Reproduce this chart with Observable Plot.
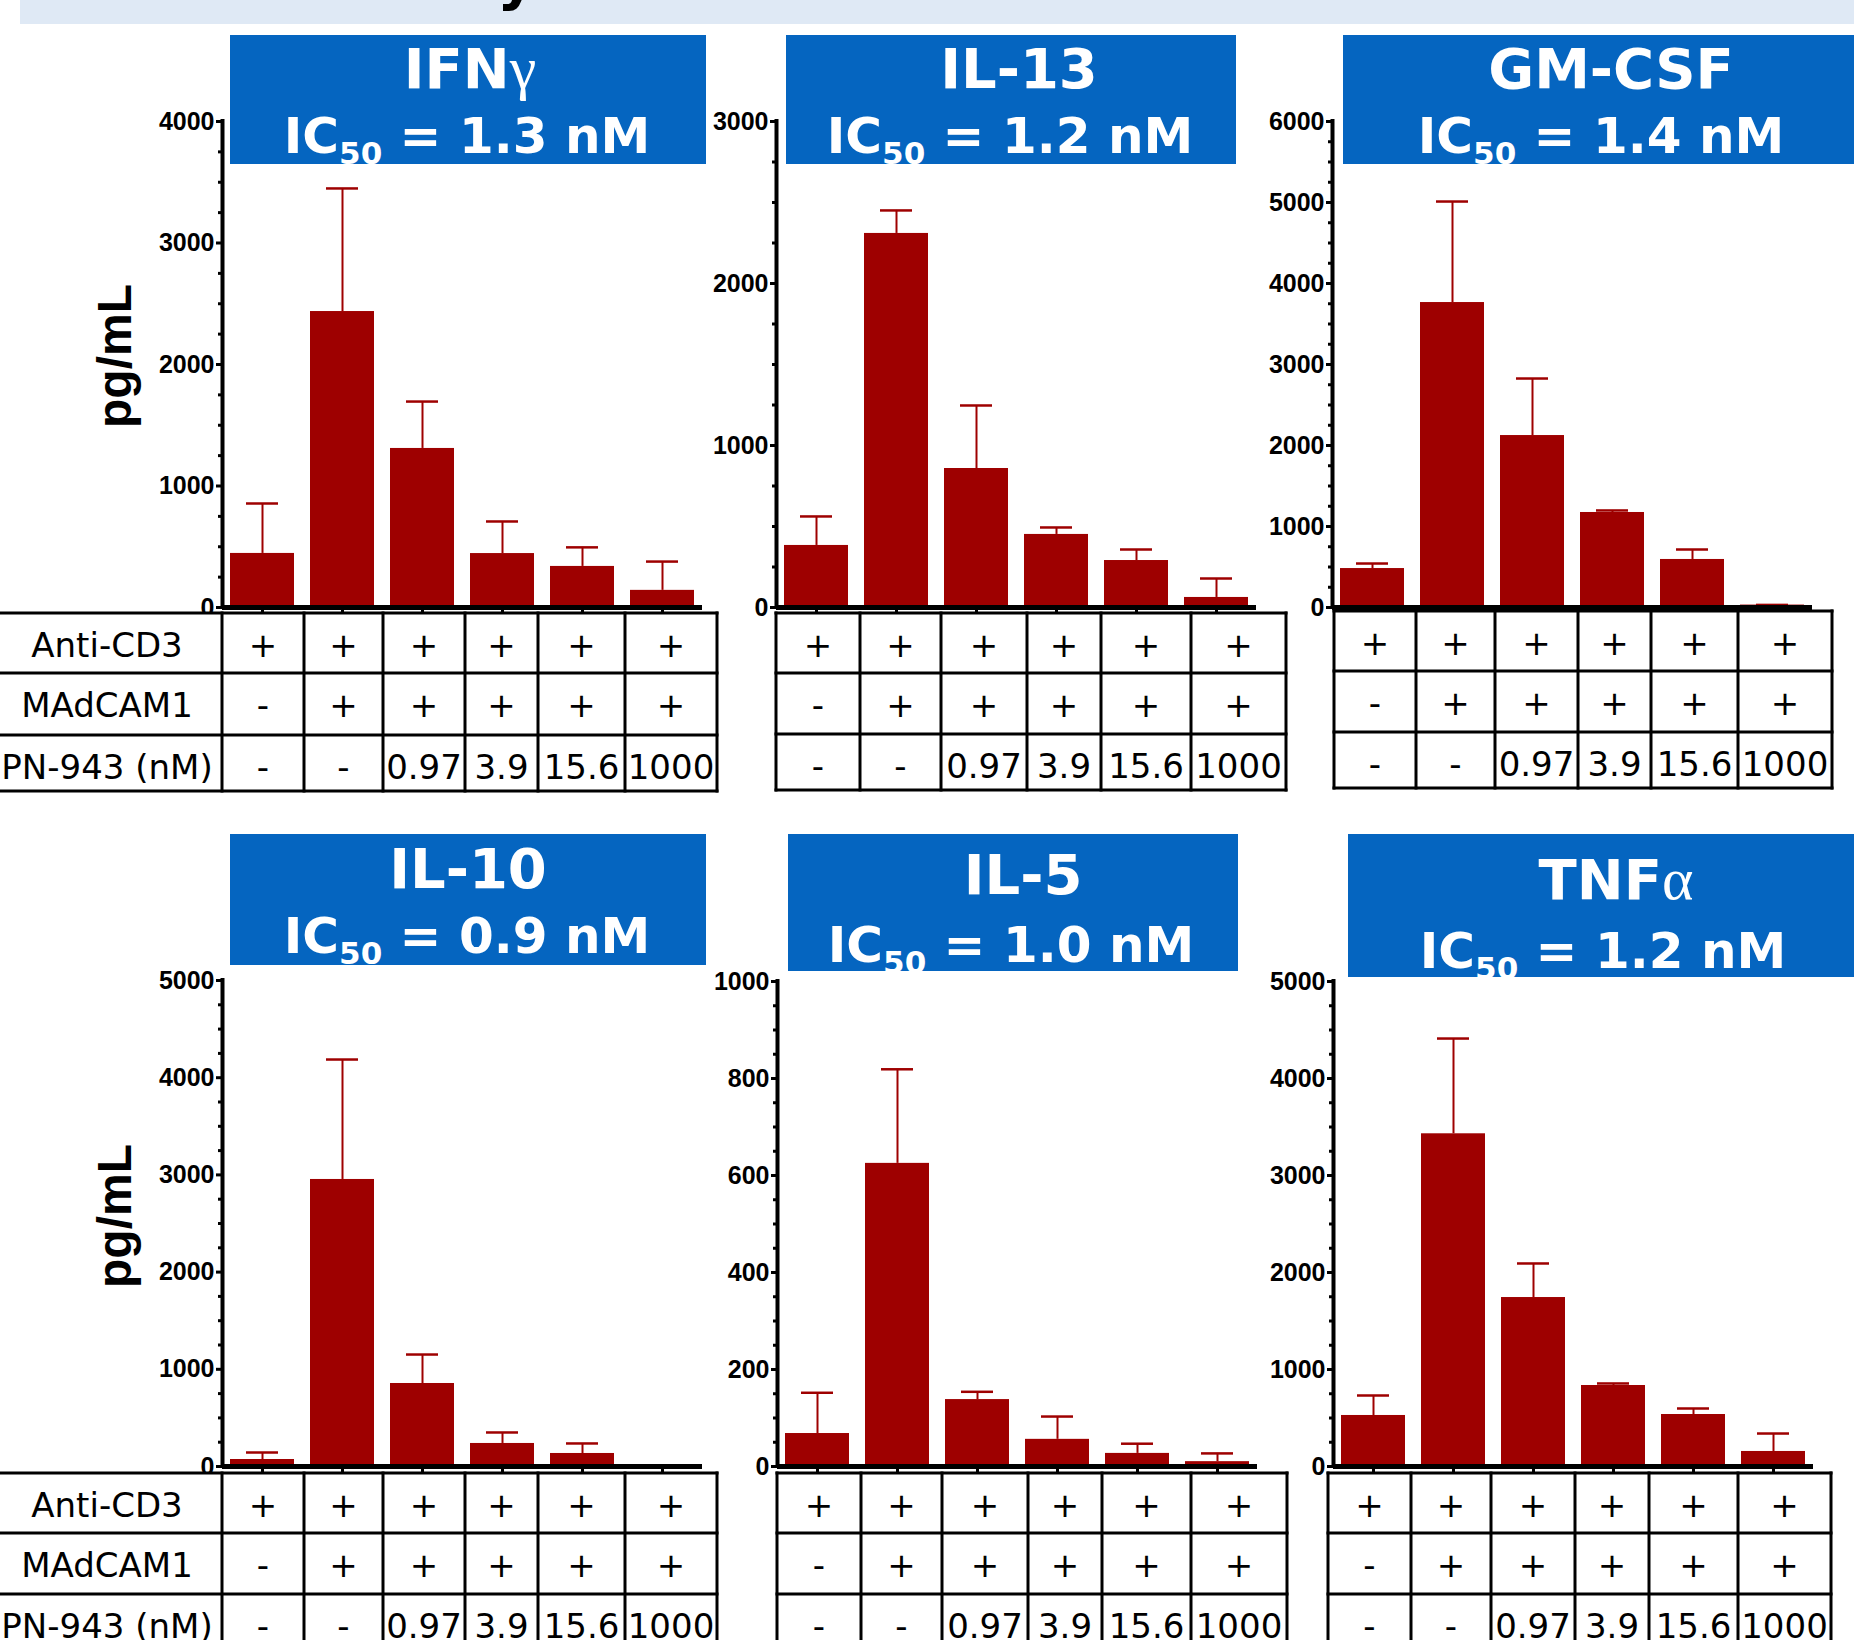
<!DOCTYPE html>
<html>
<head>
<meta charset="utf-8">
<script src="https://cdn.jsdelivr.net/npm/d3@7"></script>
<script src="https://cdn.jsdelivr.net/npm/@observablehq/plot@0.6"></script>
<style>
  html, body { margin: 0; padding: 0; background: #fff; }
  #root { position: relative; width: 1854px; height: 1640px; overflow: hidden; background: #fff; }
  .chart { position: absolute; }
  #overlay { position: absolute; left: 0; top: 0; }
</style>
</head>
<body>
<div id="root"></div>
<script>
// ---------------- data ----------------
const cytokines = ["IFN", "IL-13", "GM-CSF", "IL-10", "IL-5", "TNF"];
const greek     = ["γ", "", "", "", "", "α"];
const ic50      = ["1.3", "1.2", "1.4", "0.9", "1.0", "1.2"];

const ifngMean  = [445, 2436, 1309, 444, 338, 141];
const ifngUpper = [856, 3449, 1695, 708, 495, 378];
const il13Mean  = [383, 2309, 858, 451, 290, 62];
const il13Upper = [562, 2451, 1247, 494, 358, 179];
const gmcsfMean = [481, 3765, 2123, 1173, 593, 30];
const gmcsfUpper= [543, 5012, 2827, 1198, 716, 32];
const il10Mean  = [72, 2953, 854, 237, 134, 5];
const il10Upper = [144, 4187, 1152, 350, 237, 8];
const il5Mean   = [68, 625, 138, 56, 27, 10];
const il5Upper  = [152, 819, 154, 103, 47, 27];
const tnfaMean  = [526, 3430, 1742, 835, 536, 155];
const tnfaUpper = [732, 4412, 2093, 856, 598, 340];

const means  = [ifngMean, il13Mean, gmcsfMean, il10Mean, il5Mean, tnfaMean];
const uppers = [ifngUpper, il13Upper, gmcsfUpper, il10Upper, il5Upper, tnfaUpper];

const yMax   = [4000, 3000, 6000, 5000, 1000, 5000];
const yStep  = [1000, 1000, 1000, 1000, 200, 1000];
const yMinor = [250, 250, 250, 250, 50, 250];

const rowLabels = ["Anti-CD3", "MAdCAM1", "PN-943 (nM)"];
const antiCD3   = ["+", "+", "+", "+", "+", "+"];
const madcam1   = ["-", "+", "+", "+", "+", "+"];
const pn943     = ["-", "-", "0.97", "3.9", "15.6", "1000"];
const yTitle    = "pg/mL";

// ---------------- layout (pixels) ----------------
const layout = [
  {axisX: 222,  yTop: 121, yZero: 607,  box: [230, 35, 706, 164],   l1: [470, 88],   l2: [467, 153],  cols: [222, 304, 383, 465, 538, 625, 717],   rows: [613, 673, 735, 791],    labels: true,  ylab: 356},
  {axisX: 776,  yTop: 121, yZero: 607,  box: [786, 35, 1236, 164],  l1: [1019, 88],  l2: [1010, 153], cols: [776, 860, 941, 1027, 1101, 1191, 1286], rows: [613, 673, 734, 790]},
  {axisX: 1332, yTop: 121, yZero: 607,  box: [1343, 35, 1890, 164], l1: [1611, 88],  l2: [1601, 153], cols: [1334, 1416, 1495, 1578, 1651, 1738, 1832], rows: [611, 671, 732, 788]},
  {axisX: 222,  yTop: 980, yZero: 1466, box: [230, 834, 706, 965],  l1: [468, 888],  l2: [467, 953],  cols: [222, 304, 383, 465, 538, 625, 717],   rows: [1473, 1533, 1594, 1654], labels: true, ylab: 1216},
  {axisX: 777,  yTop: 981, yZero: 1466, box: [788, 834, 1238, 971], l1: [1023, 894], l2: [1011, 962], cols: [777, 861, 942, 1028, 1102, 1191, 1287], rows: [1473, 1533, 1594, 1654]},
  {axisX: 1333, yTop: 981, yZero: 1466, box: [1348, 834, 1890, 977], l1: [1616, 899], l2: [1603, 968], cols: [1328, 1411, 1491, 1575, 1649, 1738, 1831], rows: [1473, 1533, 1594, 1654]}
];

const RED = "#9e0000";
const BLUE = "#0565c0";
const root = document.getElementById("root");

// ---------------- charts (Plot) ----------------
function drawChart(k) {
  const L = layout[k];
  const data = means[k].map((v, i) => ({i, v, e: uppers[k][i]}));
  const mL = 80, mR = 20, mT = 30, mB = 14;
  const h = L.yZero - L.yTop;
  const major = d3.range(0, yMax[k] + 1, yStep[k]);
  const minor = d3.range(0, yMax[k] + 1, yMinor[k]).filter(t => t % yStep[k] !== 0);
  const yAxisLine = [{x: -0.5, y1: 0, y2: yMax[k]}];
  const xAxisLine = [{y: 0, x1: -0.5, x2: 5.5}];
  const svg = Plot.plot({
    width: mL + 480 + mR,
    height: mT + h + mB,
    marginLeft: mL, marginRight: mR, marginTop: mT, marginBottom: mB,
    x: {type: "linear", domain: [-0.5, 5.5]},
    y: {type: "linear", domain: [0, yMax[k]]},
    style: {background: "transparent", overflow: "visible", fontFamily: "'Liberation Sans', Arial, sans-serif", fontSize: "25px", fontWeight: "bold", color: "#000"},
    marks: [
      Plot.rect(data, {x1: d => d.i - 0.4, x2: d => d.i + 0.4, y1: 0, y2: "v", fill: RED}),
      Plot.ruleX(data, {x: "i", y1: "v", y2: "e", stroke: RED, strokeWidth: 2}),
      Plot.ruleY(data, {y: "e", x1: d => d.i - 0.2, x2: d => d.i + 0.2, stroke: RED, strokeWidth: 2.5}),
      Plot.axisY({ticks: minor, tickSize: 4, tickFormat: () => "", label: null, stroke: "#000", strokeWidth: 3}),
      Plot.axisY({ticks: major, tickSize: 6, tickPadding: 2, label: null, stroke: "#000", strokeWidth: 3, tickFormat: d => String(d)}),
      Plot.axisX({ticks: d3.range(6), tickSize: 7, tickFormat: () => "", label: null, stroke: "#000", strokeWidth: 3}),
      Plot.ruleX(yAxisLine, {x: "x", y1: "y1", y2: "y2", stroke: "#000", strokeWidth: 4, strokeLinecap: "square"}),
      Plot.ruleY(xAxisLine, {y: "y", x1: "x1", x2: "x2", stroke: "#000", strokeWidth: 5})
    ]
  });
  svg.classList.add("chart");
  svg.style.left = (L.axisX - mL) + "px";
  svg.style.top = (L.yTop - mT) + "px";
  root.appendChild(svg);
}
for (let k = 0; k < 6; k++) drawChart(k);

// ---------------- overlay: band, titles, tables, y titles ----------------
const ov = d3.select(root).append("svg")
  .attr("id", "overlay").attr("width", 1854).attr("height", 1640);

ov.append("rect").attr("x", 20).attr("y", 0).attr("width", 1834).attr("height", 24).attr("fill", "#dfe9f5");
ov.append("text").attr("x", 497).attr("y", -2)
  .attr("font-family", "'DejaVu Sans', sans-serif").attr("font-weight", "bold").attr("font-size", 60)
  .attr("fill", "#000").text("y");

for (let k = 0; k < 6; k++) {
  const L = layout[k];
  const g = ov.append("g");
  // title box
  const [bx0, by0, bx1, by1] = L.box;
  g.append("rect").attr("x", bx0).attr("y", by0).attr("width", bx1 - bx0).attr("height", by1 - by0).attr("fill", BLUE);
  const t1 = g.append("text").attr("x", L.l1[0]).attr("y", L.l1[1]).attr("text-anchor", "middle")
    .attr("fill", "#fff").attr("font-family", "'DejaVu Sans', sans-serif").attr("font-weight", "bold").attr("font-size", 56);
  t1.append("tspan").text(cytokines[k]);
  if (greek[k]) t1.append("tspan").attr("font-family", "'Liberation Serif', serif").attr("font-weight", "normal").attr("font-size", 60).text(greek[k]);
  const t2 = g.append("text").attr("x", L.l2[0]).attr("y", L.l2[1]).attr("text-anchor", "middle")
    .attr("fill", "#fff").attr("font-family", "'DejaVu Sans', sans-serif").attr("font-weight", "bold").attr("font-size", 50)
    .style("white-space", "pre");
  t2.append("tspan").text("IC");
  t2.append("tspan").attr("dy", 11).attr("font-size", 31).text("50");
  t2.append("tspan").attr("dy", -11).text(" = " + ic50[k] + " nM");

  // table
  const cols = L.cols, rows = L.rows;
  const left = L.labels ? 0 : cols[0];
  g.append("rect").attr("x", left).attr("y", rows[0]).attr("width", cols[6] - left).attr("height", rows[3] - rows[0]).attr("fill", "#fff");
  rows.forEach(y => g.append("line").attr("x1", left).attr("x2", cols[6]).attr("y1", y).attr("y2", y)
    .attr("stroke", "#000").attr("stroke-width", 3).attr("stroke-linecap", "square"));
  cols.forEach(x => g.append("line").attr("x1", x).attr("x2", x).attr("y1", rows[0]).attr("y2", rows[3])
    .attr("stroke", "#000").attr("stroke-width", 3).attr("stroke-linecap", "square"));
  const rowVals = [antiCD3, madcam1, pn943];
  const tf = sel => sel.attr("font-family", "'DejaVu Sans', Verdana, sans-serif").attr("font-size", 34).attr("fill", "#000").attr("text-anchor", "middle");
  rowVals.forEach((vals, r) => vals.forEach((t, c) => {
    g.append("text").call(tf).attr("x", (cols[c] + cols[c + 1]) / 2).attr("y", rows[r] + 44).text(t);
  }));
  if (L.labels) {
    rowLabels.forEach((t, r) => g.append("text").call(tf).attr("x", 107).attr("y", rows[r] + 44).text(t));
    g.append("text").attr("transform", `translate(131,${L.ylab}) rotate(-90)`).attr("text-anchor", "middle")
      .attr("font-family", "'Liberation Sans', Arial, sans-serif").attr("font-weight", "bold").attr("font-size", 48)
      .attr("fill", "#000").text(yTitle);
  }
}
</script>
</body>
</html>
